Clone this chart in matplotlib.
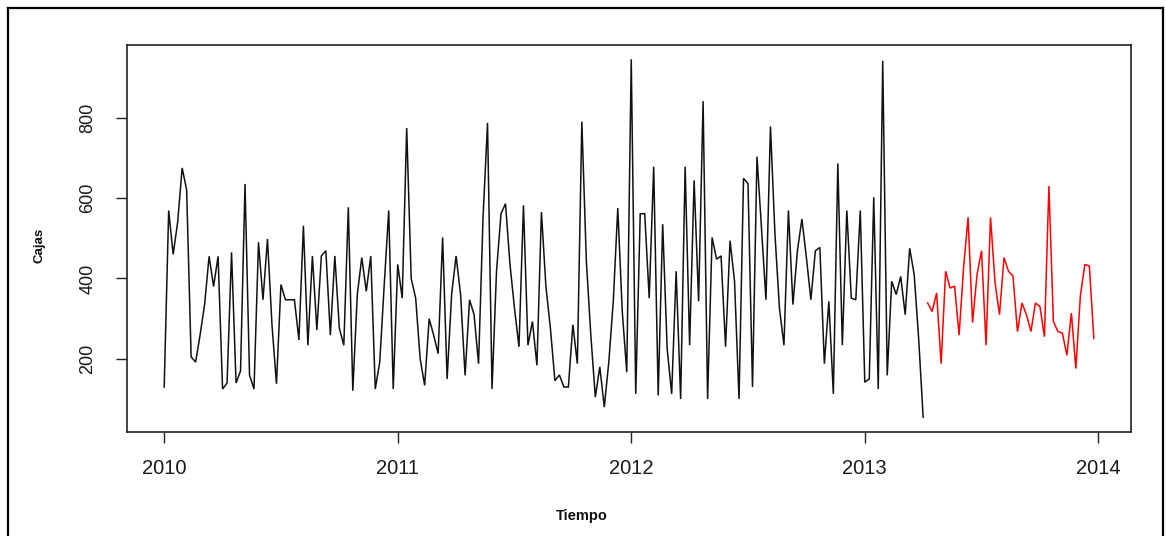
import numpy as np
import matplotlib
matplotlib.use("Agg")
import matplotlib.pyplot as plt
from matplotlib.lines import Line2D

# ---------------- data (weekly series, frequency 52, starting 2010) ----------------
start_year = 2010
freq = 52

observed = [
    130, 569, 460, 540, 675, 620, 205, 192, 260, 335,
    455, 380, 455, 125, 140, 465, 140, 170, 635, 160,
    125, 490, 347, 498, 285, 138, 385, 347, 347, 347,
    247, 531, 234, 456, 272, 456, 469, 259, 456, 276,
    234, 577, 121, 360, 452, 368, 456, 125, 192, 385,
    569, 125, 435, 351, 774, 400, 351, 200, 134, 300,
    259, 213, 502, 150, 360, 456, 360, 159, 347, 310,
    188, 552, 787, 125, 418, 561, 586, 435, 326, 230,
    582, 234, 293, 184, 565, 380, 276, 146, 160, 130,
    130, 285, 188, 790, 444, 259, 105, 180, 80, 192,
    343, 575, 318, 167, 945, 113, 561, 561, 351, 678,
    109, 535, 225, 113, 418, 100, 678, 234, 644, 343,
    841, 100, 502, 448, 456, 230, 494, 393, 100, 649,
    636, 130, 703, 527, 347, 778, 510, 326, 234, 569,
    335, 469, 548, 452, 347, 469, 477, 188, 343, 113,
    686, 234, 569, 351, 347, 569, 142, 150, 602, 125,
    941, 159, 393, 360, 405, 310, 475, 410, 250, 55,
]

forecast = [
    339, 318, 364, 188, 418, 376, 381, 259, 427, 552,
    290, 410, 469, 234, 552, 390, 310, 452, 418, 406,
    268, 339, 310, 268, 339, 330, 255, 630, 293, 268,
    264, 209, 314, 176, 356, 435, 431, 251,
]

x_ticks = [2010, 2011, 2012, 2013, 2014]
y_ticks = [200, 400, 600, 800]
x_label = "Tiempo"
y_label = "Cajas"

# ---------------- figure ----------------
W, H = 1166, 536
fig = plt.figure(figsize=(W / 100, H / 100), dpi=100)
fig.patch.set_facecolor("white")

def fx(px):
    return px / W

def fy(py):
    return 1 - py / H

left, right, top, bottom = 127, 1131, 45, 431.5
ax = fig.add_axes([fx(left), fy(bottom), (right - left) / W, (bottom - top) / H])

t_obs = start_year + np.arange(len(observed)) / freq
t_fc = start_year + (len(observed) + np.arange(len(forecast))) / freq

ax.plot(t_obs, observed, color="#111111", lw=1.1, solid_joinstyle="miter")
ax.plot(t_fc, forecast, color="#ff0000", lw=1.1, solid_joinstyle="miter")

# R-style 4% axis extension
all_t = np.concatenate([t_obs, t_fc])
all_v = np.concatenate([observed, forecast])
tr = all_t.max() - all_t.min()
vr = all_v.max() - all_v.min()
ax.set_xlim(all_t.min() - 0.04 * tr, all_t.max() + 0.04 * tr)
ax.set_ylim(all_v.min() - 0.04 * vr, all_v.max() + 0.04 * vr)

ax.set_xticks(x_ticks)
ax.set_yticks(y_ticks)
ax.set_xticklabels([str(v) for v in x_ticks], fontsize=14.5,
                   family=["Liberation Sans", "DejaVu Sans"], color="#1a1a1a")
ax.set_yticklabels([str(v) for v in y_ticks], fontsize=13,
                   family=["Liberation Sans", "DejaVu Sans"], color="#1a1a1a",
                   rotation=90, va="center")
ax.tick_params(axis="x", length=8, width=1.0, color="#222222", pad=12)
ax.tick_params(axis="y", length=8, width=1.0, color="#222222", pad=14)

for sp in ax.spines.values():
    sp.set_color("#222222")
    sp.set_linewidth(1.2)

fig.text(fx(582), fy(516), x_label, ha="center", va="center", fontsize=10.5,
         fontweight="bold", family=["Liberation Sans", "DejaVu Sans"], color="#111111")
fig.text(fx(39), fy(245), y_label, ha="center", va="center", fontsize=9.5,
         fontweight="bold", rotation=90, family=["Liberation Sans", "DejaVu Sans"],
         color="#111111")

# outer frame of the screenshot
frame_kw = dict(color="black", lw=1.6, transform=fig.transFigure)
fig.add_artist(Line2D([fx(8), fx(1163)], [fy(8), fy(8)], **frame_kw))
fig.add_artist(Line2D([fx(8), fx(8)], [fy(8), fy(536)], **frame_kw))
fig.add_artist(Line2D([fx(1163), fx(1163)], [fy(8), fy(536)], **frame_kw))

fig.savefig("out.png", dpi=100, facecolor="white")
